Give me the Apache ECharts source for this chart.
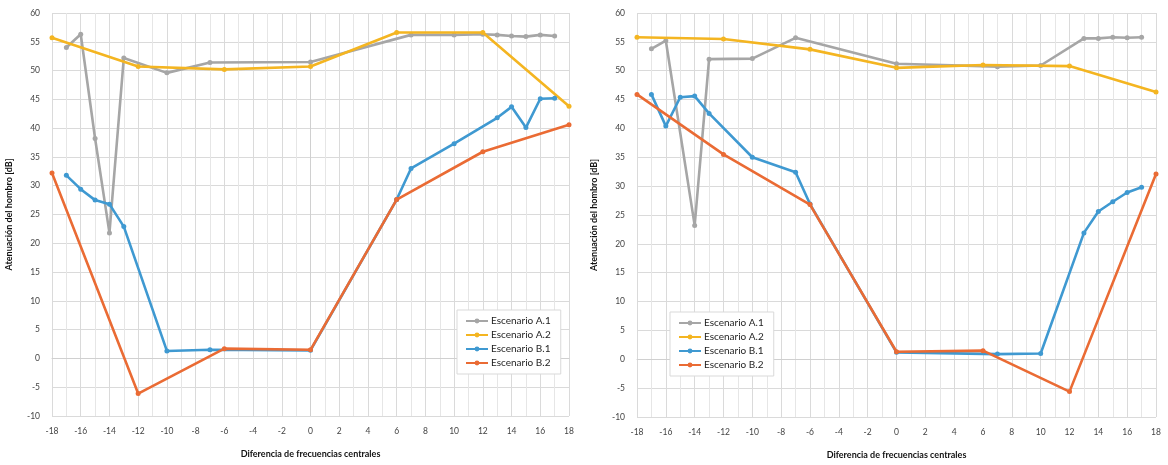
<!DOCTYPE html>
<html>
<head>
<meta charset="utf-8">
<script src="https://cdn.jsdelivr.net/npm/echarts@6/dist/echarts.min.js"></script>
<style>
  html, body { margin: 0; padding: 0; background: #fff; }
  #chart { width: 1168px; height: 465px; }
</style>
</head>
<body>
<div id="chart"></div>
<script>
// Series names shared by both panels
const seriesNames = ['Escenario A.1', 'Escenario A.2', 'Escenario B.1', 'Escenario B.2'];

// Left panel
const xL_A1 = [-17, -16, -15, -14, -13, -10, -7, 0, 7, 10, 12, 13, 14, 15, 16, 17];
const yL_A1 = [54.0, 56.3, 38.2, 21.8, 52.2, 49.6, 51.4, 51.5, 56.2, 56.2, 56.3, 56.2, 56.0, 55.9, 56.2, 56.0];
const xL_A2 = [-18, -12, -6, 0, 6, 12, 18];
const yL_A2 = [55.7, 50.7, 50.2, 50.7, 56.6, 56.6, 43.8];
const xL_B1 = [-17, -16, -15, -14, -13, -10, -7, 0, 6, 7, 10, 13, 14, 15, 16, 17];
const yL_B1 = [31.8, 29.4, 27.5, 26.8, 22.9, 1.3, 1.5, 1.4, 27.6, 33.0, 37.3, 41.8, 43.7, 40.1, 45.1, 45.2];
const xL_B2 = [-18, -12, -6, 0, 6, 12, 18];
const yL_B2 = [32.2, -6.1, 1.7, 1.5, 27.6, 35.9, 40.6];

// Right panel
const xR_A1 = [-17, -16, -14, -13, -10, -7, 0, 7, 10, 13, 14, 15, 16, 17];
const yR_A1 = [53.8, 55.2, 23.2, 52.0, 52.1, 55.7, 51.2, 50.7, 50.9, 55.6, 55.6, 55.8, 55.7, 55.8];
const xR_A2 = [-18, -12, -6, 0, 6, 12, 18];
const yR_A2 = [55.8, 55.5, 53.7, 50.5, 51.0, 50.8, 46.3];
const xR_B1 = [-17, -16, -15, -14, -13, -10, -7, -6, 0, 7, 10, 13, 14, 15, 16, 17];
const yR_B1 = [45.9, 40.4, 45.4, 45.6, 42.6, 35.0, 32.4, 26.9, 1.2, 0.9, 1.0, 21.9, 25.6, 27.3, 28.9, 29.8];
const xR_B2 = [-18, -12, -6, 0, 6, 12, 18];
const yR_B2 = [45.9, 35.5, 26.8, 1.3, 1.5, -5.6, 32.1];

// Axis settings
const xMin = -18, xMax = 18, xStep = 2;
const yMin = -10, yMax = 60, yStep = 5;
const xName = 'Diferencia de frecuencias centrales';
const yName = 'Atenuación del hombro [dB]';

const colors = ['#a6a6a6', '#f4b521', '#3f99d1', '#ea6b34'];
const FONT = 'Lato, "Open Sans", sans-serif';

const pairs = (xs, ys) => xs.map((x, i) => [x, ys[i]]);

const panels = [
  { xs: [xL_A1, xL_A2, xL_B1, xL_B2], ys: [yL_A1, yL_A2, yL_B1, yL_B2],
    grid: { left: 52, top: 13, width: 517, height: 403 }, legend: { left: 457, top: 310 } },
  { xs: [xR_A1, xR_A2, xR_B1, xR_B2], ys: [yR_A1, yR_A2, yR_B1, yR_B2],
    grid: { left: 637, top: 13, width: 519, height: 405 }, legend: { left: 670, top: 312 } }
];

const gridLine = { show: true, lineStyle: { color: '#dadada', width: 1 } };

const option = {
  animation: false,
  backgroundColor: '#fff',
  color: colors,
  textStyle: { fontFamily: FONT },
  grid: panels.map(p => Object.assign({ containLabel: false }, p.grid)),
  legend: panels.map(p => ({
    left: p.legend.left, top: p.legend.top,
    orient: 'vertical',
    data: seriesNames,
    backgroundColor: '#fff',
    borderColor: '#d9d9d9', borderWidth: 1,
    padding: [6, 10, 6, 8],
    itemGap: 4,
    itemWidth: 22, itemHeight: 6,
    selectedMode: false,
    textStyle: { fontFamily: FONT, fontSize: 10, color: '#1f1f1f', padding: [0, 0, 0, -2] }
  })),
  xAxis: panels.map((p, i) => ({
    type: 'value', gridIndex: i,
    min: xMin, max: xMax, interval: xStep,
    name: xName, nameLocation: 'middle', nameGap: 34,
    nameTextStyle: { fontFamily: FONT, fontSize: 9, fontWeight: 'bold', color: '#111' },
    axisLine: { show: true, lineStyle: { color: '#d0d0d0' } },
    axisTick: { show: false },
    axisLabel: { fontSize: 8.5, color: '#444', margin: 11, fontFamily: FONT },
    splitLine: gridLine,
    minorTick: { show: false, splitNumber: 2 },
    minorSplitLine: { show: true, lineStyle: { color: '#e6e6e6', width: 1 } }
  })),
  yAxis: panels.map((p, i) => ({
    type: 'value', gridIndex: i,
    min: yMin, max: yMax, interval: yStep,
    name: yName, nameLocation: 'middle', nameGap: 38, nameRotate: 90,
    nameTextStyle: { fontFamily: FONT, fontSize: 9, fontWeight: 'bold', color: '#111' },
    axisLine: { show: true, lineStyle: { color: '#d0d0d0' } },
    axisTick: { show: false },
    axisLabel: { fontSize: 8.5, color: '#444', margin: 12, fontFamily: FONT },
    splitLine: gridLine
  })),
  series: []
};

panels.forEach((p, gi) => {
  seriesNames.forEach((name, si) => {
    option.series.push({
      name: name,
      type: 'line',
      xAxisIndex: gi, yAxisIndex: gi,
      data: pairs(p.xs[si], p.ys[si]),
      symbol: 'circle', symbolSize: 5,
      lineStyle: { width: 2.6, color: colors[si] },
      itemStyle: { color: colors[si] },
      z: 2 + si
    });
  });
});

const chart = echarts.init(document.getElementById('chart'), null, { renderer: 'canvas' });
chart.setOption(option);
</script>
</body>
</html>
